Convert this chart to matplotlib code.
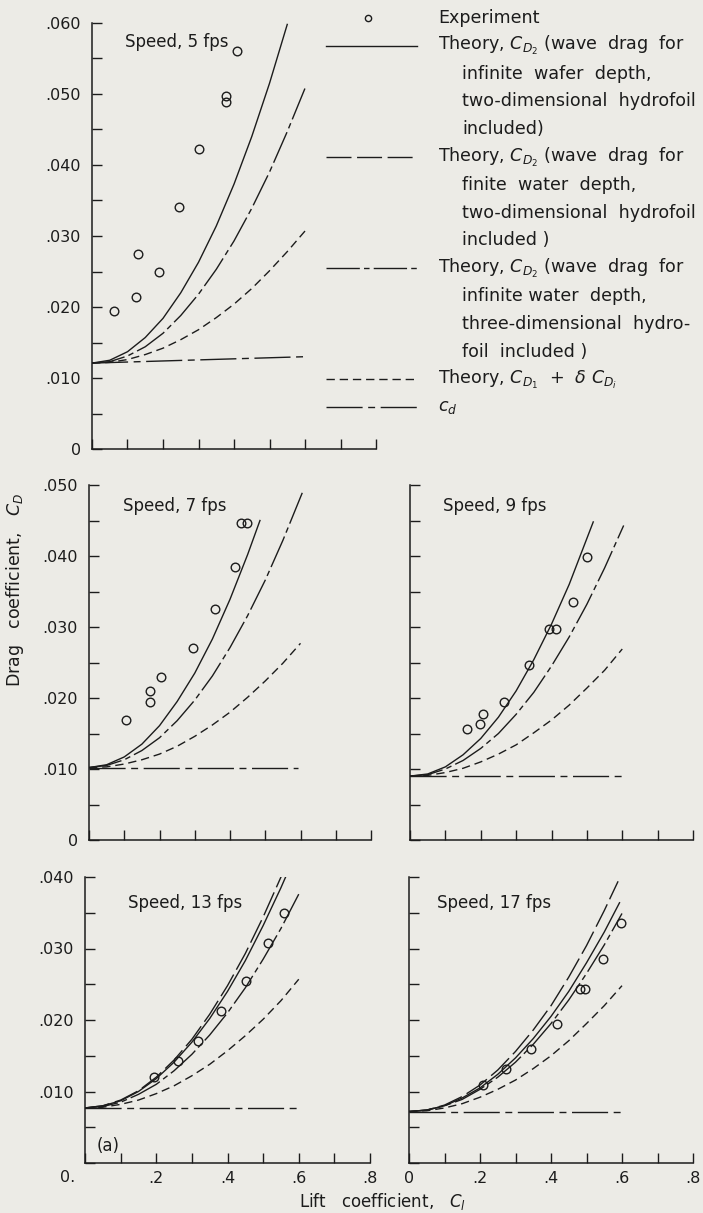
import matplotlib
matplotlib.use("Agg")
import matplotlib.pyplot as plt
from matplotlib.ticker import MultipleLocator, FuncFormatter

# lift-coefficient stations at which the theory curves were read
cl_grid = [0.0, 0.05, 0.10, 0.15, 0.20, 0.25, 0.30, 0.35, 0.40, 0.45, 0.50, 0.55, 0.60]

# ---- speed 5 fps
exp5_cl = [0.061, 0.125, 0.129, 0.188, 0.244, 0.302, 0.378, 0.378, 0.408]
exp5_cd = [0.0194, 0.0214, 0.0275, 0.0249, 0.0341, 0.0422, 0.0497, 0.0489, 0.0561]
inf2d5_cl = cl_grid[:12]
inf2d5_cd = [0.0121, 0.0125, 0.0137, 0.0157, 0.0184, 0.0220, 0.0263, 0.0314, 0.0373, 0.0440, 0.0515, 0.0598]
inf3d5_cl = cl_grid
inf3d5_cd = [0.0121, 0.0123, 0.0131, 0.0144, 0.0163, 0.0188, 0.0218, 0.0253, 0.0293, 0.0339, 0.0390, 0.0447, 0.0508]
ind5_cl = cl_grid
ind5_cd = [0.0121, 0.0122, 0.0126, 0.0133, 0.0142, 0.0154, 0.0168, 0.0185, 0.0204, 0.0226, 0.0251, 0.0278, 0.0307]
sec5_cl = [0.0, 0.2, 0.4, 0.6]
sec5_cd = [0.0121, 0.0124, 0.0127, 0.0130]

# ---- speed 7 fps
exp7_cl = [0.104, 0.172, 0.172, 0.203, 0.295, 0.357, 0.415, 0.430, 0.447]
exp7_cd = [0.0169, 0.0194, 0.0210, 0.0229, 0.0271, 0.0326, 0.0385, 0.0447, 0.0447]
inf2d7_cl = cl_grid[:10] + [0.485]
inf2d7_cd = [0.0102, 0.0106, 0.0117, 0.0135, 0.0161, 0.0195, 0.0235, 0.0283, 0.0339, 0.0402, 0.0450]
inf3d7_cl = cl_grid[:12] + [0.605]
inf3d7_cd = [0.0102, 0.0105, 0.0113, 0.0126, 0.0144, 0.0168, 0.0197, 0.0231, 0.0271, 0.0316, 0.0366, 0.0422, 0.0489]
ind7_cl = cl_grid
ind7_cd = [0.0102, 0.0103, 0.0107, 0.0113, 0.0121, 0.0132, 0.0146, 0.0162, 0.0180, 0.0201, 0.0224, 0.0249, 0.0277]
sec7_cl = [0.0, 0.3, 0.594]
sec7_cd = [0.0102, 0.0102, 0.0102]

# ---- speed 9 fps
exp9_cl = [0.160, 0.198, 0.207, 0.265, 0.337, 0.392, 0.414, 0.461, 0.499]
exp9_cd = [0.0157, 0.0163, 0.0178, 0.0195, 0.0247, 0.0297, 0.0297, 0.0335, 0.0398]
inf2d9_cl = cl_grid[:10] + [0.518]
inf2d9_cd = [0.0090, 0.0093, 0.0103, 0.0120, 0.0143, 0.0173, 0.0210, 0.0254, 0.0304, 0.0360, 0.0448]
inf3d9_cl = cl_grid[:12] + [0.604]
inf3d9_cd = [0.0090, 0.0092, 0.0100, 0.0112, 0.0129, 0.0150, 0.0177, 0.0208, 0.0245, 0.0286, 0.0332, 0.0383, 0.0443]
ind9_cl = cl_grid
ind9_cd = [0.0090, 0.0091, 0.0095, 0.0101, 0.0110, 0.0121, 0.0134, 0.0151, 0.0169, 0.0190, 0.0214, 0.0239, 0.0269]
sec9_cl = [0.0, 0.3, 0.598]
sec9_cd = [0.0090, 0.0090, 0.0090]

# ---- speed 13 fps
exp13_cl = [0.195, 0.260, 0.316, 0.383, 0.452, 0.515, 0.559]
exp13_cd = [0.0120, 0.0143, 0.0170, 0.0212, 0.0254, 0.0307, 0.0350]
fin2d13_cl = cl_grid[:11] + [0.551]
fin2d13_cd = [0.0077, 0.0080, 0.0088, 0.0101, 0.0120, 0.0144, 0.0173, 0.0208, 0.0248, 0.0293, 0.0344, 0.0401]
inf2d13_cl = cl_grid[:12] + [0.564]
inf2d13_cd = [0.0077, 0.0080, 0.0087, 0.0100, 0.0118, 0.0141, 0.0169, 0.0202, 0.0240, 0.0283, 0.0332, 0.0385, 0.0401]
inf3d13_cl = cl_grid
inf3d13_cd = [0.0077, 0.0079, 0.0085, 0.0096, 0.0110, 0.0129, 0.0152, 0.0179, 0.0210, 0.0245, 0.0285, 0.0328, 0.0376]
ind13_cl = cl_grid
ind13_cd = [0.0077, 0.0078, 0.0082, 0.0088, 0.0097, 0.0108, 0.0122, 0.0138, 0.0157, 0.0178, 0.0201, 0.0227, 0.0257]
sec13_cl = [0.0, 0.3, 0.6]
sec13_cd = [0.0077, 0.0077, 0.0077]

# ---- speed 17 fps
exp17_cl = [0.208, 0.272, 0.345, 0.417, 0.481, 0.495, 0.546, 0.598]
exp17_cd = [0.0109, 0.0132, 0.0159, 0.0195, 0.0244, 0.0244, 0.0286, 0.0336]
fin2d17_cl = cl_grid[:12] + [0.589]
fin2d17_cd = [0.0072, 0.0074, 0.0081, 0.0093, 0.0109, 0.0130, 0.0156, 0.0186, 0.0220, 0.0260, 0.0304, 0.0353, 0.0394]
inf2d17_cl = cl_grid[:12] + [0.593]
inf2d17_cd = [0.0072, 0.0074, 0.0080, 0.0091, 0.0105, 0.0124, 0.0147, 0.0174, 0.0205, 0.0240, 0.0280, 0.0323, 0.0364]
inf3d17_cl = cl_grid
inf3d17_cd = [0.0072, 0.0074, 0.0080, 0.0089, 0.0103, 0.0120, 0.0141, 0.0166, 0.0195, 0.0228, 0.0265, 0.0305, 0.0349]
ind17_cl = cl_grid
ind17_cd = [0.0072, 0.0073, 0.0077, 0.0083, 0.0092, 0.0103, 0.0116, 0.0132, 0.0150, 0.0171, 0.0195, 0.0220, 0.0248]
sec17_cl = [0.0, 0.3, 0.6]
sec17_cd = [0.0072, 0.0072, 0.0072]

speed_labels = ["Speed, 5 fps", "Speed, 7 fps", "Speed, 9 fps", "Speed, 13 fps", "Speed, 17 fps"]

INK = "#1c1c1c"
PAPER = "#ecebe6"
plt.rcParams["font.family"] = ["DejaVu Sans"]
plt.rcParams["mathtext.fontset"] = "dejavusans"
plt.rcParams["text.color"] = INK

# line patterns for each theory curve
styles = {
    "inf2d": dict(linestyle="-"),
    "fin2d": dict(dashes=(18, 4)),
    "inf3d": dict(dashes=(24, 3, 4, 3)),
    "ind": dict(dashes=(6, 3.5)),
    "sec": dict(dashes=(26, 4, 5, 4)),
}

W, H = 703, 1213
fig = plt.figure(figsize=(W / 100, H / 100), dpi=100, facecolor=PAPER)


def px_axes(left, top, right, bottom):
    return fig.add_axes([left / W, 1 - bottom / H, (right - left) / W, (bottom - top) / H])


def yfmt(v, pos):
    if abs(v) < 1e-9:
        return "0"
    return f"{v:.3f}".lstrip("0")


def xfmt(v, pos):
    if abs(v) < 1e-9:
        return "0"
    return f"{v:.1f}".lstrip("0")


panels = [
    # axes box (px), ymax, speed label, experiment, curves, y labels, x labels, label spot
    ((92, 23, 376, 449), 0.060, speed_labels[0], (exp5_cl, exp5_cd),
     [("inf2d", inf2d5_cl, inf2d5_cd), ("inf3d", inf3d5_cl, inf3d5_cd),
      ("ind", ind5_cl, ind5_cd), ("sec", sec5_cl, sec5_cd)], True, False, (0.115, 0.955)),
    ((89, 485, 371, 840), 0.050, speed_labels[1], (exp7_cl, exp7_cd),
     [("inf2d", inf2d7_cl, inf2d7_cd), ("inf3d", inf3d7_cl, inf3d7_cd),
      ("ind", ind7_cl, ind7_cd), ("sec", sec7_cl, sec7_cd)], True, False, (0.12, 0.94)),
    ((410, 485, 693, 840), 0.050, speed_labels[2], (exp9_cl, exp9_cd),
     [("inf2d", inf2d9_cl, inf2d9_cd), ("inf3d", inf3d9_cl, inf3d9_cd),
      ("ind", ind9_cl, ind9_cd), ("sec", sec9_cl, sec9_cd)], False, False, (0.117, 0.94)),
    ((85, 877, 370, 1163), 0.040, speed_labels[3], (exp13_cl, exp13_cd),
     [("fin2d", fin2d13_cl, fin2d13_cd), ("inf2d", inf2d13_cl, inf2d13_cd),
      ("inf3d", inf3d13_cl, inf3d13_cd), ("ind", ind13_cl, ind13_cd),
      ("sec", sec13_cl, sec13_cd)], True, True, (0.15, 0.91)),
    ((409, 877, 693, 1163), 0.040, speed_labels[4], (exp17_cl, exp17_cd),
     [("fin2d", fin2d17_cl, fin2d17_cd), ("inf2d", inf2d17_cl, inf2d17_cd),
      ("inf3d", inf3d17_cl, inf3d17_cd), ("ind", ind17_cl, ind17_cd),
      ("sec", sec17_cl, sec17_cd)], False, True, (0.10, 0.91)),
]

for n, (box, ymax, label, (ecl, ecd), curves, ylab, xlab, lpos) in enumerate(panels):
    ax = px_axes(*box)
    ax.set_facecolor("none")
    for key, xs, ys in curves:
        ax.plot(xs, ys, color=INK, lw=1.0, **styles[key])
    ax.plot(ecl, ecd, "o", ms=6.2, mfc="none", mec=INK, mew=1.0, zorder=5)
    ax.set_xlim(0, 0.8)
    ax.set_ylim(0, ymax)
    for s in ("top", "right"):
        ax.spines[s].set_visible(False)
    for s in ("left", "bottom"):
        ax.spines[s].set_color(INK)
        ax.spines[s].set_linewidth(1.1)
    ax.xaxis.set_major_locator(MultipleLocator(0.1))
    ax.yaxis.set_major_locator(MultipleLocator(0.010))
    ax.yaxis.set_minor_locator(MultipleLocator(0.005))
    ax.tick_params(which="both", direction="in", color=INK, width=1.0, labelsize=11.5,
                   labelcolor=INK)
    ax.tick_params(axis="y", which="major", length=7, pad=8)
    ax.tick_params(axis="y", which="minor", length=7)
    ax.tick_params(axis="x", which="major", length=7, pad=6)
    if ylab:
        ax.yaxis.set_major_formatter(FuncFormatter(yfmt))
    else:
        ax.set_yticklabels([])
    if xlab:
        ax.set_xticks([0, 0.2, 0.4, 0.6, 0.8], minor=False)
        ax.set_xticks([0.1, 0.3, 0.5, 0.7], minor=True)
        ax.tick_params(axis="x", which="minor", direction="in", length=7, width=1.0, color=INK)
        ax.xaxis.set_major_formatter(FuncFormatter(xfmt))
    else:
        ax.set_xticklabels([])
    ax.text(lpos[0], lpos[1], label, transform=ax.transAxes, fontsize=12,
            ha="left", va="center")
    if n == 3:
        # lower-left panel: one shared corner label instead of two zeros
        ax.yaxis.set_major_formatter(FuncFormatter(lambda v, p: "" if abs(v) < 1e-9 else yfmt(v, p)))
        ax.xaxis.set_major_formatter(FuncFormatter(lambda v, p: "" if abs(v) < 1e-9 else xfmt(v, p)))
        ax.text(-0.035, -0.052, "0.", transform=ax.transAxes, fontsize=11.5,
                ha="right", va="center")
        ax.text(0.04, 0.06, "(a)", transform=ax.transAxes, fontsize=12, ha="left", va="center")

# key drawn in figure pixel space
key = fig.add_axes([0, 0, 1, 1])
key.set_xlim(0, W)
key.set_ylim(H, 0)
key.axis("off")
key.patch.set_alpha(0)

pitch = 27.8
row0 = 18
key_fs = 12.6
key.plot([368], [row0], "o", ms=4.5, mfc="none", mec=INK, mew=1.0)
key.text(438, row0, "Experiment", fontsize=key_fs, va="center", ha="left")

entries = [
    ("inf2d", [r"Theory, $C_{D_2}$ (wave  drag  for", "infinite  wafer  depth,",
               "two-dimensional  hydrofoil", "included)"]),
    ("fin2d", [r"Theory, $C_{D_2}$ (wave  drag  for", "finite  water  depth,",
               "two-dimensional  hydrofoil", "included )"]),
    ("inf3d", [r"Theory, $C_{D_2}$ (wave  drag  for", "infinite water  depth,",
               "three-dimensional  hydro-", "foil  included )"]),
    ("ind", [r"Theory, $C_{D_1}$  +  $\delta\ C_{D_i}$"]),
    ("sec", [r"$c_d$"]),
]
row = 1
for style_key, lines in entries:
    y = row0 + row * pitch
    key.plot([326, 417], [y, y], color=INK, lw=1.0, **styles[style_key])
    for i, line in enumerate(lines):
        key.text(438 if i == 0 else 462, row0 + (row + i) * pitch, line,
                 fontsize=key_fs, va="center", ha="left")
    row += len(lines)

fig.text(15 / W, 1 - 590 / H, r"Drag   coefficient,   $C_D$", rotation=90,
         fontsize=12.5, ha="center", va="center")
fig.text(382 / W, 1 - 1201 / H, r"Lift   coefficient,   $C_l$",
         fontsize=12, ha="center", va="center")

fig.savefig("out.png", dpi=100, facecolor=PAPER)
